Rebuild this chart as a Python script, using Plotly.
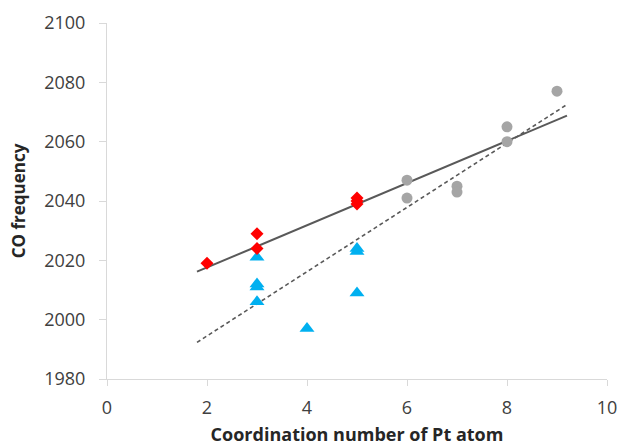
import numpy as np
import plotly.graph_objects as go

# Data
red_x = [2, 3, 3, 5, 5, 5]
red_y = [2019, 2029, 2024, 2041, 2040, 2039]
blue_x = [3, 3, 3, 3, 4, 5, 5, 5]
blue_y = [2021, 2012, 2011, 2006, 1997, 2024, 2023, 2009]
gray_x = [6, 6, 7, 7, 8, 8, 9]
gray_y = [2047, 2041, 2045, 2043, 2065, 2060, 2077]
fit_range = [1.8, 9.2]
x_ticks = [0, 2, 4, 6, 8, 10]
y_ticks = [1980, 2000, 2020, 2040, 2060, 2080, 2100]

fx = np.array(fit_range)
s1 = np.polyfit(red_x + gray_x, red_y + gray_y, 1)
s2 = np.polyfit(blue_x + gray_x, blue_y + gray_y, 1)

fig = go.Figure()
fig.add_trace(go.Scatter(x=fx, y=np.polyval(s1, fx), mode="lines",
                         line=dict(color="#595959", width=2), showlegend=False))
fig.add_trace(go.Scatter(x=fx, y=np.polyval(s2, fx), mode="lines",
                         line=dict(color="#595959", width=1.6, dash="4px,3px"), showlegend=False))
fig.add_trace(go.Scatter(x=gray_x, y=gray_y, mode="markers",
                         marker=dict(symbol="circle", size=11, color="#A5A5A5"), showlegend=False))
fig.add_trace(go.Scatter(x=blue_x, y=blue_y, mode="markers",
                         marker=dict(symbol="triangle-up", size=13, color="#00B0F0"), showlegend=False))
fig.add_trace(go.Scatter(x=red_x, y=red_y, mode="markers",
                         marker=dict(symbol="diamond", size=10, color="#FF0000"), showlegend=False))

font = "Open Sans, Liberation Sans, sans-serif"
fig.update_layout(
    width=622, height=446,
    margin=dict(l=107, r=15, t=23, b=67),
    paper_bgcolor="white", plot_bgcolor="white",
    font=dict(family=font, size=18, color="#404040"),
)
fig.update_xaxes(range=[0, 10], tickvals=x_ticks, showgrid=False, zeroline=False,
                 showline=True, linecolor="#d9d9d9", linewidth=1,
                 ticks="outside", tickcolor="#d9d9d9", ticklen=6,
                 ticklabelstandoff=6, automargin=False,
                 tickfont=dict(size=18, color="#404040"),
                 title=dict(text="<b>Coordination number of Pt atom</b>",
                            font=dict(size=18, color="#262626"), standoff=12))
fig.update_yaxes(range=[1980, 2100], tickvals=y_ticks, showgrid=False, zeroline=False,
                 showline=True, linecolor="#d9d9d9", linewidth=1,
                 ticks="outside", tickcolor="#d9d9d9", ticklen=7,
                 ticklabelstandoff=10, automargin=False,
                 tickfont=dict(size=18, color="#404040"),
                 title=dict(text="<b>CO frequency</b>",
                            font=dict(size=17, color="#262626"), standoff=14))

fig.write_html(
    "out.html",
    config={"displayModeBar": False},
    post_script="document.documentElement.style.overflow='hidden';"
                "document.body.style.margin='0';document.body.style.overflow='hidden';",
)
